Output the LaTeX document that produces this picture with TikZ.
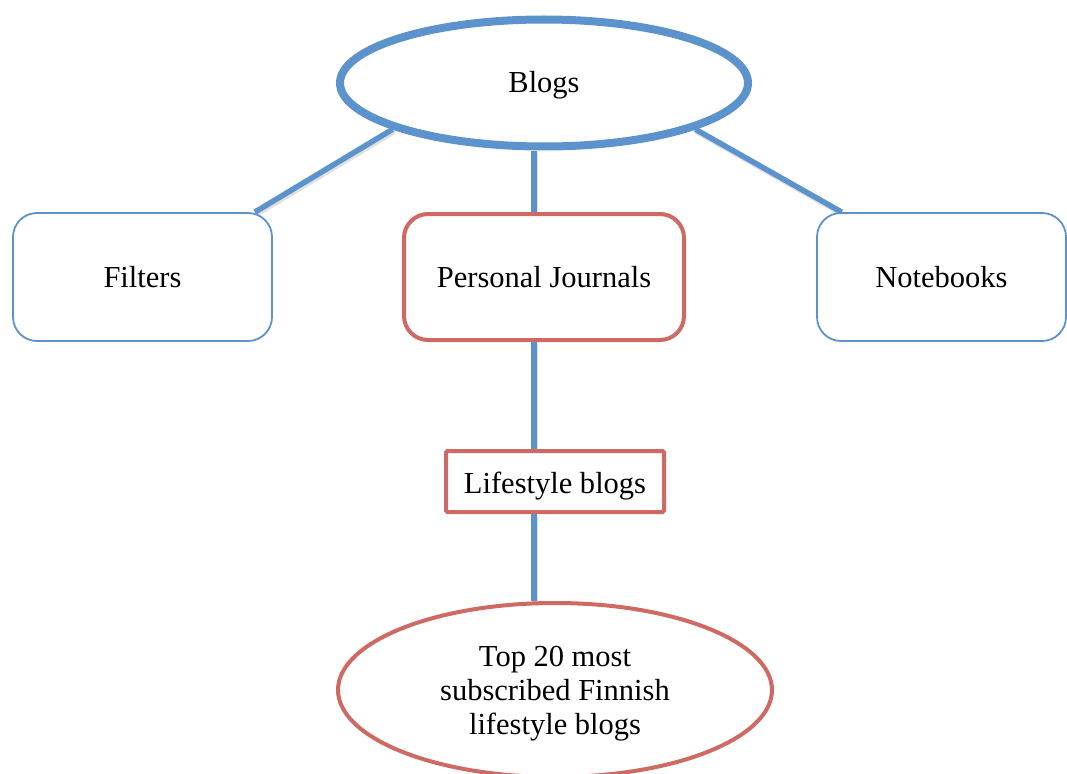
\documentclass[tikz,border=0pt]{standalone}
\usepackage{fontspec}
\setmainfont{Liberation Serif}
\usetikzlibrary{shapes.geometric,calc,backgrounds}
\definecolor{cblue}{RGB}{92,147,204}
\definecolor{cred}{RGB}{206,106,99}
\tikzset{
  lbl/.style={font=\fontsize{30.5}{34}\selectfont, text=black, align=center},
  one/.style={text height=26pt, text depth=6pt},
  topell/.style={lbl, one, ellipse, draw=cblue, line width=8pt, fill=white, inner sep=0pt,
    minimum width=408pt, minimum height=127pt},
  botell/.style={lbl, ellipse, draw=cred, line width=4pt, fill=white, inner sep=0pt,
    minimum width=434pt, minimum height=174pt, text height=95pt, text depth=6.5pt},
  bluebox/.style={lbl, one, rectangle, rounded corners=24pt, draw=cblue, line width=1.8pt, fill=white,
    inner sep=0pt, minimum height=128pt},
  redbox/.style={lbl, one, rectangle, rounded corners=24pt, draw=cred, line width=4pt, fill=white,
    inner sep=0pt, minimum width=280pt, minimum height=126pt},
  plainbox/.style={lbl, rectangle, rounded corners=1.5pt, draw=cred, line width=4pt, fill=white,
    inner sep=0pt, minimum width=218pt, minimum height=61pt, text height=27pt, text depth=4pt},
  conn/.style={draw=cblue, line width=5.5pt},
  connshadow/.style={draw=black, opacity=0.12, line width=6pt, transform canvas={shift={(1.2pt,-2pt)}}},
}
\begin{document}
\begin{tikzpicture}[x=1pt,y=1pt]
\useasboundingbox (0,0) rectangle (1067,-773);
\clip (0,0) rectangle (1067,-773);

\node[topell]   (blogs) at (544,-83) {Blogs};
\node[bluebox, minimum width=259pt] (filters) at (142.5,-277) {Filters};
\node[redbox]   (pj) at (544,-277) {Personal Journals};
\node[bluebox, minimum width=249pt] (notes) at (941.5,-277) {Notebooks};
\node[plainbox] (life) at (555,-481.5) {Lifestyle blogs};
\node[botell]   (top) at (555,-690) {Top 20 most\\subscribed Finnish\\lifestyle blogs};

\begin{scope}[on background layer]
  \fill[white] (0,0) rectangle (1067,-773);
  \draw[connshadow] (blogs.197.4) -- (filters.30.7);
  \draw[connshadow] (blogs.343) -- (notes.147.2);
  \draw[connshadow] ([xshift=-10pt]blogs.south) -- ([xshift=-10pt]pj.north);
  \draw[connshadow] ([xshift=-10pt]pj.south) -- ([xshift=-21pt]life.north);
  \draw[connshadow] ([xshift=-21pt]life.south) -- ([xshift=-21pt]top.north);
\end{scope}

% connectors
\draw[conn] (blogs.197.4) -- (filters.30.7);
\draw[conn] (blogs.343) -- (notes.147.2);
\draw[conn] ([xshift=-10pt]blogs.south) -- ([xshift=-10pt]pj.north);
\draw[conn] ([xshift=-10pt]pj.south) -- ([xshift=-21pt]life.north);
\draw[conn] ([xshift=-21pt]life.south) -- ([xshift=-21pt]top.north);
\end{tikzpicture}
\end{document}
